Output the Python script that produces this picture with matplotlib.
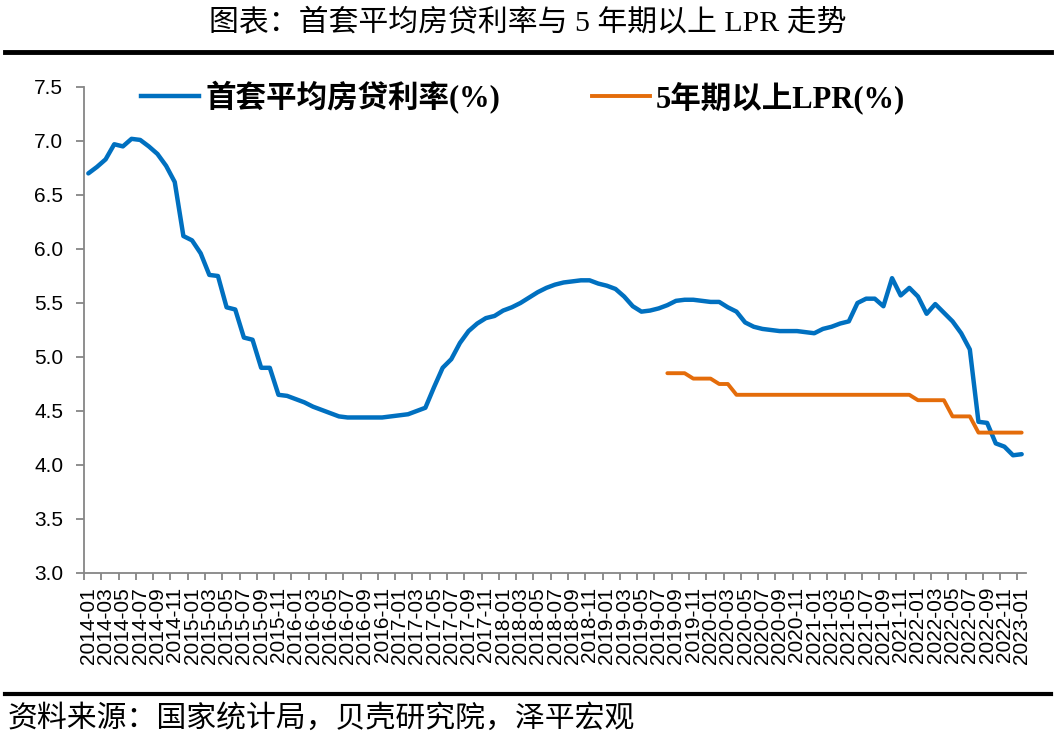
import numpy as np
import matplotlib
matplotlib.use('Agg')
from matplotlib import pyplot as plt
from matplotlib.ticker import FixedLocator, FormatStrFormatter
from matplotlib.lines import Line2D

plt.rcParams['font.family'] = ['Liberation Sans', 'Noto Sans CJK SC']

# 月份：2014-01 ~ 2023-01
months = ['%d-%02d' % (2014 + i // 12, i % 12 + 1) for i in range(109)]

# 首套平均房贷利率(%)
mortgage_rate = [
    6.70, 6.76, 6.83, 6.97, 6.95, 7.02, 7.01, 6.95, 6.88, 6.77, 6.62, 6.12,  # 2014
    6.08, 5.96, 5.76, 5.75, 5.46, 5.44, 5.18, 5.16, 4.90, 4.90, 4.65, 4.64,  # 2015
    4.61, 4.58, 4.54, 4.51, 4.48, 4.45, 4.44, 4.44, 4.44, 4.44, 4.44, 4.45,  # 2016
    4.46, 4.47, 4.50, 4.53, 4.72, 4.90, 4.98, 5.13, 5.24, 5.31, 5.36, 5.38,  # 2017
    5.43, 5.46, 5.50, 5.55, 5.60, 5.64, 5.67, 5.69, 5.70, 5.71, 5.71, 5.68,  # 2018
    5.66, 5.63, 5.56, 5.47, 5.42, 5.43, 5.45, 5.48, 5.52, 5.53, 5.53, 5.52,  # 2019
    5.51, 5.51, 5.46, 5.42, 5.32, 5.28, 5.26, 5.25, 5.24, 5.24, 5.24, 5.23,  # 2020
    5.22, 5.26, 5.28, 5.31, 5.33, 5.50, 5.54, 5.54, 5.47, 5.73, 5.57, 5.64,  # 2021
    5.56, 5.40, 5.49, 5.41, 5.33, 5.22, 5.07, 4.40, 4.39, 4.20, 4.17, 4.09,  # 2022
    4.10,                                                                    # 2023
]

# 5年期以上LPR(%)，自2019-08起
lpr_start = '2019-08'
lpr_rate = [
    4.85, 4.85, 4.85, 4.80, 4.80,                                            # 2019
    4.80, 4.75, 4.75, 4.65, 4.65, 4.65, 4.65, 4.65, 4.65, 4.65, 4.65, 4.65,  # 2020
    4.65, 4.65, 4.65, 4.65, 4.65, 4.65, 4.65, 4.65, 4.65, 4.65, 4.65, 4.65,  # 2021
    4.60, 4.60, 4.60, 4.60, 4.45, 4.45, 4.45, 4.30, 4.30, 4.30, 4.30, 4.30,  # 2022
    4.30,                                                                    # 2023
]

yticks = [3.0, 3.5, 4.0, 4.5, 5.0, 5.5, 6.0, 6.5, 7.0, 7.5]

title = '图表：首套平均房贷利率与 5 年期以上 LPR 走势'
source = '资料来源：国家统计局，贝壳研究院，泽平宏观'
labels = ['首套平均房贷利率(%)', '5年期以上LPR(%)']
colors = ['#0070C0', '#E46C0A']

if __name__ == '__main__':
    fig = plt.figure(figsize=(10.56, 7.38), dpi=100)
    ax = fig.add_axes([84 / 1056, 1 - 573 / 738, 942 / 1056, 486 / 738])

    x = np.arange(len(months))
    x_lpr = np.arange(months.index(lpr_start), months.index(lpr_start) + len(lpr_rate))

    ax.plot(x, mortgage_rate, color=colors[0], lw=3.2, solid_joinstyle='round',
            solid_capstyle='round')
    ax.plot(x_lpr, lpr_rate, color=colors[1], lw=2.8, solid_joinstyle='round',
            solid_capstyle='round')

    ax.set_xlim(-0.5, len(months) - 0.5)
    ax.set_ylim(3.0, 7.5)

    # 坐标轴
    for s in ['top', 'right']:
        ax.spines[s].set_visible(False)
    for s in ['left', 'bottom']:
        ax.spines[s].set_color('#868686')
        ax.spines[s].set_linewidth(1.3)

    ax.set_yticks(yticks)
    ax.yaxis.set_major_formatter(FormatStrFormatter('%.1f'))
    ax.tick_params(axis='y', direction='out', length=6, width=1.3, color='#868686',
                   labelsize=15, pad=9)

    ax.set_xticks(x[::2])
    ax.set_xticklabels(months[::2], rotation=90)
    ax.xaxis.set_minor_locator(FixedLocator(np.arange(-0.5, len(months), 2)))
    ax.tick_params(axis='x', which='major', length=0, labelsize=15, pad=10)
    ax.tick_params(axis='x', which='minor', direction='out', length=5, width=1.3,
                   color='#868686')

    # 图例
    handles = [Line2D([], [], color=colors[0], lw=3.2),
               Line2D([], [], color=colors[1], lw=2.8)]
    fig.legend(handles, labels, loc='upper left', bbox_to_anchor=(141 / 1056, 1 - 81 / 738),
               ncol=2, frameon=False, handlelength=1.9, handletextpad=0.2,
               columnspacing=3.0, borderpad=0, borderaxespad=0,
               prop={'family': ['Liberation Serif', 'Noto Sans CJK SC'],
                     'weight': 'bold', 'size': 22})

    # 标题与来源
    fig.text(0.5, 1 - 23 / 738, title, ha='center', va='center', fontsize=21.5,
             family=['Liberation Serif', 'Noto Sans CJK SC'])
    fig.add_artist(Line2D([5 / 1056, 1051 / 1056], [1 - 52 / 738, 1 - 52 / 738],
                          color='black', lw=3.5))
    fig.add_artist(Line2D([5 / 1056, 1051 / 1056], [1 - 694 / 738, 1 - 694 / 738],
                          color='black', lw=3.0))
    fig.text(8 / 1056, 1 - 718 / 738, source, ha='left', va='center', fontsize=21.5,
             style='italic', family=['Noto Sans CJK SC', 'DejaVu Sans'])

    fig.savefig('out.png', dpi=100)
